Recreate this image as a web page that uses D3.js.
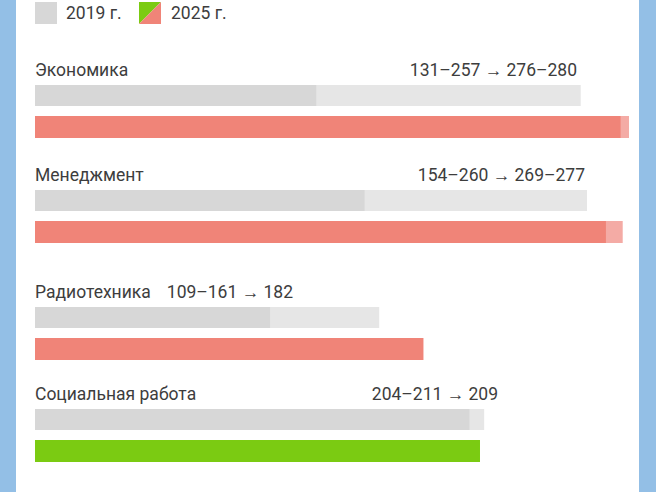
<!DOCTYPE html>
<html>
<head>
<meta charset="utf-8">
<script src="https://cdn.jsdelivr.net/npm/d3@7"></script>
<style>
  body { margin: 0; background: #93bfe6; }
  svg { display: block; font-family: Roboto, "Noto Sans", sans-serif; }
</style>
</head>
<body>
<div id="chart"></div>
<script>
// data
var categories = ["Экономика", "Менеджмент", "Радиотехника", "Социальная работа"];
var min2019 = [131, 154, 109, 204];
var max2019 = [257, 260, 161, 211];
var min2025 = [276, 269, 182, 209];
var max2025 = [280, 277, 182, 209];
var legendLabels = ["2019 г.", "2025 г."];

function init(){
    var w = 656;
    var h = 492;
    var frame = 16;      // blue border on left/right
    var barH = 21;
    var fs = "17.5px";

    var rows = categories.map(function(c, i){
        return {
            name: c,
            lo19: min2019[i], hi19: max2019[i],
            lo25: min2025[i], hi25: max2025[i]
        };
    });

    function fmt(a, b){ return a === b ? String(a) : a + "–" + b; }

    var xScale = d3.scaleLinear()
                    .domain([-3, 280])
                    .range([35, 629]);

    // groups are not evenly spaced in the original
    var yScale = d3.scaleOrdinal()
                    .domain(categories)
                    .range([85, 190, 307, 409]);

    // where the value note ends (right aligned), radio one sits inline after the label
    var noteEnd = [577, 585, null, 498];

    var svg = d3.select("#chart")
            .append("svg")
            .attr("width", w)
            .attr("height", h);

    svg.append("rect")
        .attr("x", frame)
        .attr("y", 0)
        .attr("width", w - 2 * frame - 1)
        .attr("height", h)
        .attr("fill", "#ffffff");

    // Legend
    var sw = 22;
    var leg = svg.append("g").attr("class", "legend");
    leg.append("rect")
        .attr("x", 35).attr("y", 2)
        .attr("width", sw).attr("height", sw)
        .attr("fill", "#d7d7d7");
    leg.append("text")
        .attr("x", 66).attr("y", 19)
        .attr("font-size", fs)
        .attr("fill", "#3d3d3d")
        .text(legendLabels[0]);
    var g2 = leg.append("g").attr("transform", "translate(139,2)");
    g2.append("path")
        .attr("d", "M0,0H" + sw + "L0," + sw + "Z")
        .attr("fill", "#7bcb12");
    g2.append("path")
        .attr("d", "M" + sw + ",0V" + sw + "H0Z")
        .attr("fill", "#f08478");
    leg.append("text")
        .attr("x", 171).attr("y", 19)
        .attr("font-size", fs)
        .attr("fill", "#3d3d3d")
        .text(legendLabels[1]);

    var group = svg.selectAll("g.row")
        .data(rows)
        .enter()
        .append("g")
        .attr("class", "row");

    // 2019 range: solid to min, lighter to max
    group.append("rect")
        .attr("x", xScale(-3))
        .attr("y", function(d){ return yScale(d.name); })
        .attr("width", function(d){ return xScale(d.hi19) - xScale(-3); })
        .attr("height", barH)
        .attr("fill", "#e6e6e6");
    group.append("rect")
        .attr("x", xScale(-3))
        .attr("y", function(d){ return yScale(d.name); })
        .attr("width", function(d){ return xScale(d.lo19) - xScale(-3); })
        .attr("height", barH)
        .attr("fill", "#d7d7d7");

    // 2025 range
    function grew(d){ return d.lo25 > d.hi19; }
    group.append("rect")
        .attr("x", xScale(-3))
        .attr("y", function(d){ return yScale(d.name) + 31; })
        .attr("width", function(d){ return xScale(d.hi25) - xScale(-3); })
        .attr("height", barH + 1)
        .attr("fill", function(d){ return grew(d) ? "#f4aba5" : "#a9dd66"; });
    group.append("rect")
        .attr("x", xScale(-3))
        .attr("y", function(d){ return yScale(d.name) + 31; })
        .attr("width", function(d){ return xScale(d.lo25) - xScale(-3); })
        .attr("height", barH + 1)
        .attr("fill", function(d){ return grew(d) ? "#f08478" : "#7bcb12"; });

    // category label
    var labels = group.append("text")
        .attr("x", 35)
        .attr("y", function(d){ return yScale(d.name) - 9; })
        .attr("font-size", fs)
        .attr("fill", "#3d3d3d")
        .text(function(d){ return d.name; });

    // value note
    group.append("text")
        .attr("y", function(d){ return yScale(d.name) - 9; })
        .attr("font-size", fs)
        .attr("fill", "#3d3d3d")
        .attr("text-anchor", function(d, i){ return noteEnd[i] === null ? "start" : "end"; })
        .attr("x", function(d, i){
            if (noteEnd[i] !== null) return noteEnd[i];
            return 35 + labels.nodes()[i].getComputedTextLength() + 16;
        })
        .text(function(d){ return fmt(d.lo19, d.hi19) + " → " + fmt(d.lo25, d.hi25); });
}
window.onload = init;
</script>
</body>
</html>
